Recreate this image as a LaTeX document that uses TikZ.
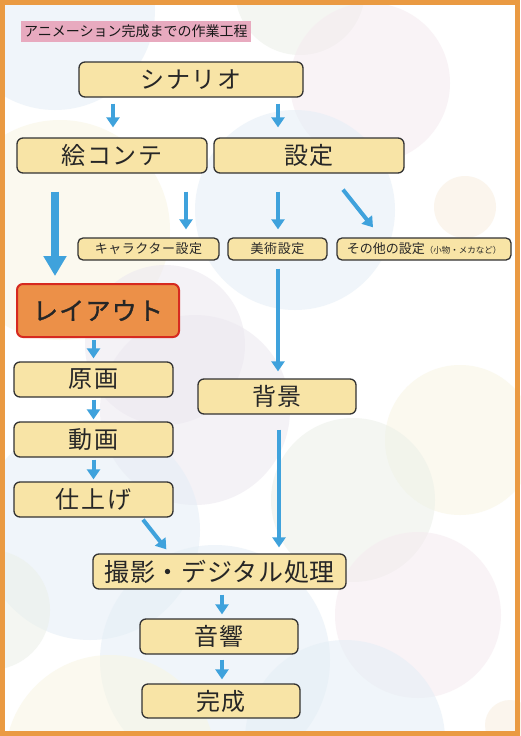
\documentclass[tikz,border=0pt]{standalone}
\usepackage{fontspec}
\setmainfont{Noto Sans CJK JP}
\newfontfamily\jpbold[FakeBold=1.2]{Noto Sans CJK JP}
\usetikzlibrary{arrows.meta,calc}
\definecolor{boxfill}{HTML}{F8E4A6}
\definecolor{boxline}{HTML}{333333}
\definecolor{arrblue}{HTML}{3FA2DC}
\definecolor{frameorange}{HTML}{EA9A42}
\definecolor{layfill}{HTML}{EC9048}
\definecolor{layline}{HTML}{D62A20}
\definecolor{titlepink}{HTML}{E8AABF}
\definecolor{bblue}{HTML}{E4EEF6}
\definecolor{bgreen}{HTML}{EBF0E8}
\definecolor{bpink}{HTML}{F5EAF0}
\definecolor{bcream}{HTML}{F8F5E2}
\definecolor{bpurple}{HTML}{ECE8F0}
\definecolor{bbeige}{HTML}{F8EEDF}
\begin{document}
\begin{tikzpicture}[x=1pt,y=-1pt,
  box/.style={draw=boxline, fill=boxfill, line width=1.3pt, rounded corners=6pt,
    inner sep=0pt, text=black!85, font=\fontsize{24}{24}\selectfont\addfontfeature{LetterSpace=7}},
  smallbox/.style={box, rounded corners=5pt, minimum height=22pt, font=\fontsize{13}{13}\selectfont\addfontfeature{LetterSpace=4}},
  arr/.style={draw=arrblue, line width=4pt, -{Triangle[width=13pt,length=10pt]}},
  bigarr/.style={draw=arrblue, line width=7.5pt, -{Triangle[width=22pt,length=20pt]}},
  bub/.style={opacity=0.55}]
\fill[white] (0,0) rectangle (520,736);
\useasboundingbox (0,0) rectangle (520,736);
% background bubbles
\fill[bblue,bub] (55,10) circle (100);
\fill[bgreen,bub] (300,-10) circle (65);
\fill[bpink,bub] (370,83) circle (80);
\fill[bcream,bub] (60,230) circle (110);
\fill[bblue,bub] (295,210) circle (100);
\fill[bbeige,bub] (465,207) circle (31);
\fill[bpurple,bub] (165,345) circle (80);
\fill[bpurple,bub] (195,410) circle (95);
\fill[bcream,bub] (460,440) circle (75);
\fill[bgreen,bub] (353,500) circle (82);
\fill[bblue,bub] (90,530) circle (110);
\fill[bgreen,bub] (-10,610) circle (60);
\fill[bpink,bub] (418,615) circle (83);
\fill[bblue,bub] (215,660) circle (115);
\fill[bblue,bub] (345,740) circle (100);
\fill[bcream,bub] (110,760) circle (105);
\fill[bbeige,bub] (510,725) circle (25);
% frame
\draw[frameorange, line width=5pt] (2.5,2.5) rectangle (517.5,733.5);
% title
\node[fill=titlepink, inner xsep=3pt, inner ysep=0pt, minimum height=21pt, anchor=west,
  text=black!90, font=\fontsize{14}{14}\selectfont] (title) at (21,31.5) {アニメーション完成までの作業工程};
% boxes
\node[box, minimum width=224pt, minimum height=35pt] (scen) at (191,79.5) {シナリオ};
\node[box, minimum width=190pt, minimum height=35pt] (ekonte) at (112,155.5) {絵コンテ};
\node[box, minimum width=190pt, minimum height=35pt] (settei) at (309,155.5) {設定};
\node[smallbox, minimum width=141pt] (chara) at (148.5,249) {キャラクター設定};
\node[smallbox, minimum width=99pt] (bijutsu) at (277.5,249) {美術設定};
\node[smallbox, minimum width=174pt, font=\fontsize{13}{13}\selectfont] (sonota) at (424,249) {その他の設定{\fontsize{8.5}{8.5}\selectfont （小物・メカなど）}};
\node[box, fill=layfill, draw=layline, line width=2pt, minimum width=162pt, minimum height=53pt,
  font=\fontsize{25}{25}\selectfont\jpbold\addfontfeature{LetterSpace=5}] (layout) at (98,310.5) {レイアウト};
\node[box, minimum width=159pt, minimum height=35pt] (genga) at (93.5,379.5) {原画};
\node[box, minimum width=159pt, minimum height=35pt] (douga) at (93.5,439.5) {動画};
\node[box, minimum width=159pt, minimum height=35pt] (shiage) at (93.5,499.5) {仕上げ};
\node[box, minimum width=158pt, minimum height=35pt] (haikei) at (277,396.5) {背景};
\node[box, minimum width=253pt, minimum height=35pt, font=\fontsize{25}{25}\selectfont\addfontfeature{LetterSpace=3}] (satsuei) at (219.5,571.5) {撮影・デジタル処理};
\node[box, minimum width=158pt, minimum height=35pt] (onkyo) at (219,636.5) {音響};
\node[box, minimum width=158pt, minimum height=34pt] (kansei) at (221,701) {完成};
% arrows
\draw[arr] ($(scen.south -| ekonte.north)+(1,6)$) -- ($(ekonte.north)+(1,-10)$);
\draw[arr] ($(scen.south -| settei.north)+(-31,6)$) -- ($(settei.north)+(-31,-10)$);
\draw[bigarr] ($(ekonte.south -| layout.north)+(-43,18)$) -- ($(layout.north)+(-43,-7)$);
\draw[arr] ($(ekonte.south -| chara.north)+(37.5,18)$) -- ($(chara.north)+(37.5,-8)$);
\draw[arr] ($(settei.south -| bijutsu.north)+(0.5,18)$) -- ($(bijutsu.north)+(0.5,-8)$);
\draw[arr] ($(settei.south)+(34,16)$) -- ($(sonota.north)+(-51,-10)$);
\draw[arr] ($(bijutsu.south)+(0.5,8)$) -- ($(haikei.north)+(1,-7)$);
\draw[arr] ($(layout.south -| genga.north)+(0,2)$) -- ($(genga.north)+(0,-3)$);
\draw[arr] ($(genga.south)+(0,2)$) -- ($(douga.north)+(0,-2)$);
\draw[arr] ($(douga.south)+(0,2)$) -- ($(shiage.north)+(0,-2)$);
\draw[arr] ($(shiage.south)+(49.5,2)$) -- ($(satsuei.north west)+(74,-4)$);
\draw[arr] ($(haikei.south)+(2,15)$) -- ($(satsuei.north -| haikei.south)+(2,-6)$);
\draw[arr] ($(satsuei.south -| onkyo.north)+(3,5)$) -- ($(onkyo.north)+(3,-4)$);
\draw[arr] ($(onkyo.south)+(3,5)$) -- ($(kansei.north)+(1,-4)$);
\end{tikzpicture}
\end{document}
